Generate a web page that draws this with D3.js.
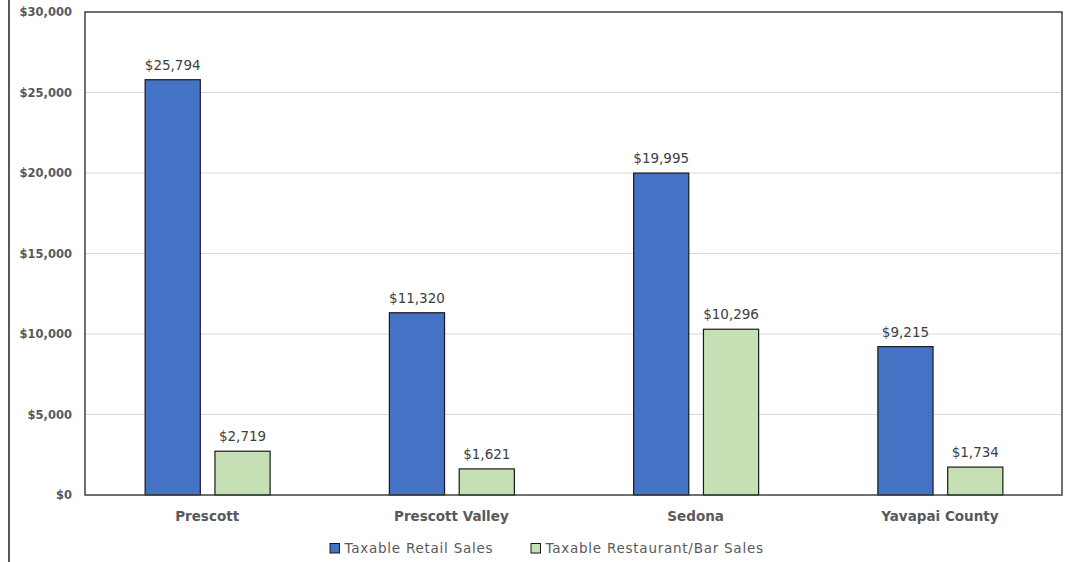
<!DOCTYPE html>
<html>
<head>
<meta charset="utf-8">
<script src="https://cdn.jsdelivr.net/npm/d3@7"></script>
<style>
  html, body { margin: 0; padding: 0; background: #fff; }
  svg { display: block; font-family: "DejaVu Sans", Verdana, sans-serif; }
</style>
</head>
<body>
<svg id="chart" width="1079" height="562"></svg>
<script>
// Taxable sales by area (thousands of dollars)
const categories = ["Prescott", "Prescott Valley", "Sedona", "Yavapai County"];
const seriesNames = ["Taxable Retail Sales", "Taxable Restaurant/Bar Sales"];
const retailSales = [25794, 11320, 19995, 9215];
const restaurantSales = [2719, 1621, 10296, 1734];
const yTicks = [0, 5000, 10000, 15000, 20000, 25000, 30000];
const colors = ["#4472c4", "#c5e0b4"];

const svg = d3.select("#chart");
const margin = { left: 85, right: 17, top: 12, bottom: 67 };
const W = 1079, H = 562;
const innerW = W - margin.left - margin.right;
const innerH = H - margin.top - margin.bottom;

const series = [retailSales, restaurantSales];

const x0 = d3.scaleBand().domain(categories).range([margin.left, margin.left + innerW]);
const x1 = d3.scaleBand().domain([0, 1]).range([-62, 63]).paddingInner(0.21);
const y = d3.scaleLinear().domain([0, 30000]).range([margin.top + innerH, margin.top]);

// outer left rule of the chart frame
svg.append("line")
  .attr("x1", 9).attr("x2", 9).attr("y1", 0).attr("y2", H)
  .attr("stroke", "#595959").attr("stroke-width", 2);

// horizontal gridlines
svg.append("g")
  .selectAll("line")
  .data(yTicks.filter(t => t > 0 && t < 30000))
  .join("line")
  .attr("x1", margin.left).attr("x2", margin.left + innerW)
  .attr("y1", d => y(d)).attr("y2", d => y(d))
  .attr("stroke", "#d9d9d9").attr("stroke-width", 1);

// y axis labels
const fmt = d3.format(",");
const yAxis = d3.axisLeft(y).tickValues(yTicks).tickSize(0).tickPadding(13)
  .tickFormat(d => "$" + fmt(d));
const gy = svg.append("g").attr("transform", `translate(${margin.left},0)`).call(yAxis);
gy.select(".domain").remove();
gy.selectAll("text")
  .attr("fill", "#595959")
  .style("font-family", "\"DejaVu Sans\", Verdana, sans-serif")
  .style("font-size", "11.5px")
  .style("font-weight", "700");

// bars
const groups = svg.append("g").selectAll("g")
  .data(categories)
  .join("g")
  .attr("transform", d => `translate(${x0(d) + x0.bandwidth() / 2},0)`);

groups.selectAll("rect")
  .data((c, i) => series.map((s, k) => ({ k, v: s[i] })))
  .join("rect")
  .attr("x", d => x1(d.k))
  .attr("width", x1.bandwidth())
  .attr("y", d => y(d.v))
  .attr("height", d => y(0) - y(d.v))
  .attr("fill", d => colors[d.k])
  .attr("stroke", "#1a1a1a")
  .attr("stroke-width", 1.2);

groups.selectAll("text.val")
  .data((c, i) => series.map((s, k) => ({ k, v: s[i] })))
  .join("text")
  .attr("class", "val")
  .attr("x", d => x1(d.k) + x1.bandwidth() / 2)
  .attr("y", d => y(d.v) - 10)
  .attr("text-anchor", "middle")
  .attr("fill", "#404040")
  .style("font-size", "13.5px")
  .text(d => "$" + fmt(d.v));

// plot frame
svg.append("rect")
  .attr("x", margin.left).attr("y", margin.top)
  .attr("width", innerW).attr("height", innerH)
  .attr("fill", "none").attr("stroke", "#404040").attr("stroke-width", 1.5);

// category labels
const xAxis = d3.axisBottom(x0).tickSize(0).tickPadding(16);
const gx = svg.append("g").attr("transform", `translate(0,${margin.top + innerH})`).call(xAxis);
gx.select(".domain").remove();
gx.selectAll("text")
  .attr("fill", "#595959")
  .style("font-family", "\"DejaVu Sans\", Verdana, sans-serif")
  .style("font-size", "13.5px")
  .style("font-weight", "700");

// legend
const legendX = [330, 531];
const legend = svg.append("g").selectAll("g")
  .data(seriesNames)
  .join("g")
  .attr("transform", (d, i) => `translate(${legendX[i]},548)`);
legend.append("rect")
  .attr("x", 0).attr("y", -4.5).attr("width", 9.5).attr("height", 9.5)
  .attr("fill", (d, i) => colors[i]).attr("stroke", "#1a1a1a").attr("stroke-width", 1);
legend.append("text")
  .attr("x", 14.5).attr("y", 0).attr("dy", "0.38em")
  .attr("fill", "#595959")
  .style("font-size", "13.5px")
  .style("letter-spacing", "0.75px")
  .text(d => d);
</script>
</body>
</html>
